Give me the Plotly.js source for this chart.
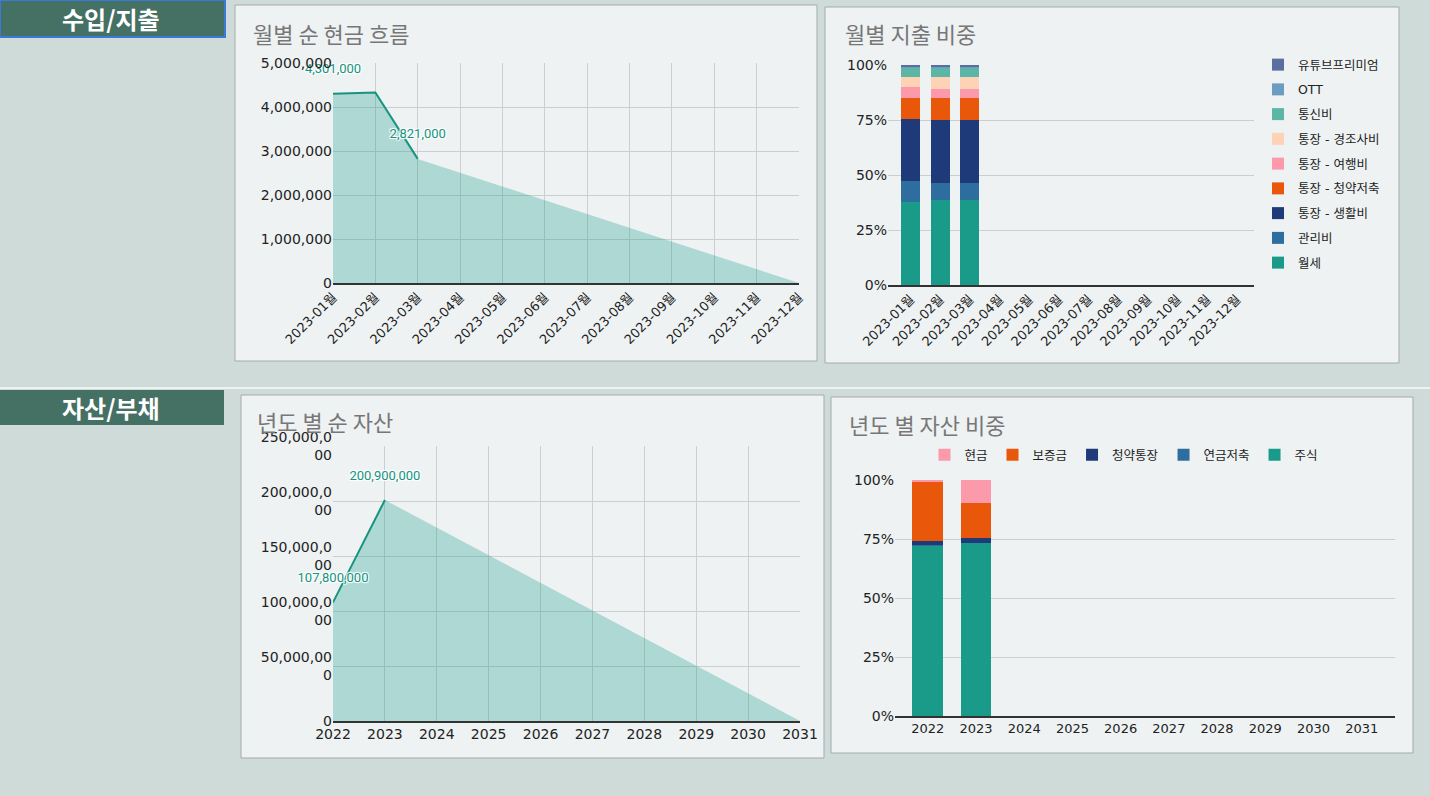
<!DOCTYPE html>
<html><head><meta charset="utf-8">
<script src="https://cdn.plot.ly/plotly-3.0.1.min.js"></script>
<style>html,body{margin:0;padding:0;background:#cfdbd8;overflow:hidden}#chart{width:1430px;height:796px}</style>
</head><body><div id="chart"></div>
<script>
// ---------- data ----------
const months = ['2023-01월','2023-02월','2023-03월','2023-04월','2023-05월','2023-06월','2023-07월','2023-08월','2023-09월','2023-10월','2023-11월','2023-12월'];
const netCashLine = [4301000, 4331000, 2821000];
const netCashArea = [4301000, 4331000, 2821000, null, null, null, null, null, null, null, null, 0];
const netCashLabels = ['4,301,000', '', '2,821,000'];

const expenseNames = ['월세','관리비','통장 - 생활비','통장 - 청약저축','통장 - 여행비','통장 - 경조사비','통신비','OTT','유튜브프리미엄'];
const exp월세 = [37.7, 38.5, 38.5];
const exp관리비 = [9.4, 7.6, 7.6];
const exp생활비 = [28.4, 29.0, 28.9];
const exp청약저축 = [9.3, 9.6, 9.7];
const exp여행비 = [5.0, 4.5, 4.5];
const exp경조사비 = [4.5, 5.1, 5.1];
const exp통신비 = [4.4, 4.4, 4.4];
const expOTT = [0.3, 0.3, 0.3];
const exp유튜브 = [0.9, 0.9, 0.9];
const expenseColors = ['#1a9b8a','#2e6e9e','#1e3a78','#e9570a','#fc9aac','#fed2b4','#5cb6a5','#6a9dc0','#5a6ea0'];

const years = ['2022','2023','2024','2025','2026','2027','2028','2029','2030','2031'];
const netAssetLine = [107800000, 200900000];
const netAssetArea = [107800000, 200900000, null, null, null, null, null, null, null, 0];
const netAssetLabels = ['107,800,000', '200,900,000'];
const assetTickVals = [0, 50000000, 100000000, 150000000, 200000000, 250000000];
const assetTickText = ['0', '50,000,00<br>0', '100,000,0<br>00', '150,000,0<br>00', '200,000,0<br>00', '250,000,0<br>00'];

const assetNames = ['주식','연금저축','청약통장','보증금','현금'];
const ast주식 = [72.2, 73.3];
const ast연금저축 = [0.2, 0.2];
const ast청약통장 = [1.8, 2.0];
const ast보증금 = [25.0, 14.6];
const ast현금 = [0.8, 9.9];
const assetColors = ['#1a9b8a','#2e6e9e','#1e3a78','#e9570a','#fc9aac'];

// ---------- helpers ----------
const W = 1430, H = 796;
const px = x => x / W;
const py = y => 1 - y / H;
const NUM = "'DejaVu Sans', 'Noto Sans CJK KR', sans-serif";
const KR = "'Noto Sans CJK KR', sans-serif";
const teal = '#17937f';
const halo = '1px 1px 1px #fff, -1px -1px 1px #fff, 1px -1px 1px #fff, -1px 1px 1px #fff';
const grid = '#cccfcf';
const xTickFont = {family: NUM, size: 13, color: '#222'};
const yTickFont = {family: NUM, size: 14, color: '#222'};

const traces = [];
// Panel 1
traces.push({x: months, y: netCashArea, type: 'scatter', mode: 'lines', connectgaps: true, fill: 'tozeroy',
  fillcolor: 'rgba(26,155,138,0.3)', line: {width: 0}, xaxis: 'x', yaxis: 'y', showlegend: false, hoverinfo: 'skip'});
traces.push({x: months.slice(0, 3), y: netCashLine, type: 'scatter', mode: 'lines', line: {color: teal, width: 2},
  xaxis: 'x', yaxis: 'y', showlegend: false});
traces.push({x: months.slice(0, 3), y: netCashLine, type: 'scatter', mode: 'markers+text', text: netCashLabels,
  textposition: 'top center', marker: {size: 26, color: 'rgba(0,0,0,0)'},
  textfont: {family: "Roboto, 'Noto Sans', sans-serif", size: 13, color: teal, shadow: halo},
  xaxis: 'x', yaxis: 'y', showlegend: false, hoverinfo: 'skip', cliponaxis: false});

// Panel 2
const expSeries = [exp월세, exp관리비, exp생활비, exp청약저축, exp여행비, exp경조사비, exp통신비, expOTT, exp유튜브];
expSeries.forEach((s, i) => {
  traces.push({x: months.slice(0, s.length), y: s, name: expenseNames[i], type: 'bar', marker: {color: expenseColors[i]},
    xaxis: 'x2', yaxis: 'y2', legend: 'legend', legendgroup: 'e' + i, legendrank: 100 - i});
});

// Panel 3
traces.push({x: years, y: netAssetArea, type: 'scatter', mode: 'lines', connectgaps: true, fill: 'tozeroy',
  fillcolor: 'rgba(26,155,138,0.3)', line: {width: 0}, xaxis: 'x3', yaxis: 'y3', showlegend: false, hoverinfo: 'skip'});
traces.push({x: years.slice(0, 2), y: netAssetLine, type: 'scatter', mode: 'lines', line: {color: teal, width: 2},
  xaxis: 'x3', yaxis: 'y3', showlegend: false});
traces.push({x: years.slice(0, 2), y: netAssetLine, type: 'scatter', mode: 'markers+text', text: netAssetLabels,
  textposition: 'top center', marker: {size: 26, color: 'rgba(0,0,0,0)'},
  textfont: {family: "Roboto, 'Noto Sans', sans-serif", size: 13, color: teal, shadow: halo},
  xaxis: 'x3', yaxis: 'y3', showlegend: false, hoverinfo: 'skip', cliponaxis: false});

// Panel 4
const astSeries = [ast주식, ast연금저축, ast청약통장, ast보증금, ast현금];
astSeries.forEach((s, i) => {
  traces.push({x: years.slice(0, s.length), y: s, name: assetNames[i], type: 'bar', marker: {color: assetColors[i]},
    xaxis: 'x4', yaxis: 'y4', legend: 'legend2'});
});

const shapes = [
  {type: 'rect', xref: 'paper', yref: 'paper', x0: px(0), x1: px(225), y0: py(37), y1: py(0), fillcolor: '#457064', line: {color: '#3a7ad6', width: 2}, layer: 'below'},
  {type: 'line', xref: 'paper', yref: 'paper', x0: 0, x1: 1, y0: py(388), y1: py(388), line: {color: '#eef3f2', width: 2}, layer: 'below'},
  {type: 'rect', xref: 'paper', yref: 'paper', x0: px(0), x1: px(224), y0: py(425), y1: py(390), fillcolor: '#457064', line: {width: 0}, layer: 'below'},
  {type: 'rect', xref: 'paper', yref: 'paper', x0: px(235), x1: px(817), y0: py(361), y1: py(5), fillcolor: '#eef2f3', line: {color: '#a3abab', width: 1}, layer: 'below'},
  {type: 'rect', xref: 'paper', yref: 'paper', x0: px(825), x1: px(1399), y0: py(363), y1: py(7), fillcolor: '#eef2f3', line: {color: '#a3abab', width: 1}, layer: 'below'},
  {type: 'rect', xref: 'paper', yref: 'paper', x0: px(241), x1: px(824), y0: py(758), y1: py(395), fillcolor: '#eef2f3', line: {color: '#a3abab', width: 1}, layer: 'below'},
  {type: 'rect', xref: 'paper', yref: 'paper', x0: px(831), x1: px(1413), y0: py(753), y1: py(397), fillcolor: '#eef2f3', line: {color: '#a3abab', width: 1}, layer: 'below'}
];

const ann = (text, x, y, opts) => Object.assign({xref: 'paper', yref: 'paper', x: px(x), y: py(y), text: text, showarrow: false,
  xanchor: 'left', yanchor: 'middle', font: {family: KR, size: 22, color: '#777'}}, opts || {});
const annotations = [
  ann('<b>수입/지출</b>', 111, 18, {xanchor: 'center', font: {family: KR, size: 24, color: '#fff'}}),
  ann('<b>자산/부채</b>', 111, 407, {xanchor: 'center', font: {family: KR, size: 24, color: '#fff'}}),
  ann('월별 순 현금 흐름', 251, 33),
  ann('월별 지출 비중', 843, 33),
  ann('년도 별 순 자산', 255, 421),
  ann('년도 별 자산 비중', 847, 424)
];

const layout = {
  width: W, height: H, margin: {l: 0, r: 0, t: 0, b: 0},
  paper_bgcolor: '#cfdbd8', plot_bgcolor: '#eef2f3',
  barmode: 'stack', barnorm: 'percent', bargap: 0.36,
  shapes: shapes, annotations: annotations,
  xaxis: {domain: [px(333), px(799)], anchor: 'y', type: 'category', categoryorder: 'array', categoryarray: months,
    range: [0, 11], showgrid: true, gridcolor: grid, showline: true, linecolor: '#333', linewidth: 1.5,
    tickangle: -45, tickfont: xTickFont, ticks: '', fixedrange: true},
  yaxis: {domain: [py(283), py(63)], anchor: 'x', range: [0, 5000000], dtick: 1000000, tickformat: ',d',
    showgrid: true, gridcolor: grid, zeroline: false, tickfont: yTickFont, ticks: '', fixedrange: true},
  xaxis2: {domain: [px(888), px(1254)], anchor: 'y2', type: 'category', categoryorder: 'array', categoryarray: months,
    range: [-0.76, 11.58], showgrid: false, showline: true, linecolor: '#333', linewidth: 1.5,
    tickangle: -45, tickfont: xTickFont, ticks: '', fixedrange: true},
  yaxis2: {domain: [py(285), py(65)], anchor: 'x2', range: [0, 100], dtick: 25, ticksuffix: '%',
    showgrid: true, gridcolor: grid, zeroline: false, tickfont: yTickFont, ticks: '', fixedrange: true},
  xaxis3: {domain: [px(333), px(800)], anchor: 'y3', type: 'category', categoryorder: 'array', categoryarray: years,
    range: [0, 9], showgrid: true, gridcolor: grid, showline: true, linecolor: '#333', linewidth: 1.5,
    tickangle: 0, tickfont: yTickFont, ticks: '', fixedrange: true},
  yaxis3: {domain: [py(721), py(446)], anchor: 'x3', range: [0, 250000000], tickmode: 'array',
    tickvals: assetTickVals, ticktext: assetTickText,
    showgrid: true, gridcolor: grid, zeroline: false, tickfont: yTickFont, ticks: '', fixedrange: true},
  xaxis4: {domain: [px(895), px(1395)], anchor: 'y4', type: 'category', categoryorder: 'array', categoryarray: years,
    range: [-0.68, 9.69], showgrid: false, showline: true, linecolor: '#333', linewidth: 1.5,
    tickangle: 0, tickfont: xTickFont, ticks: '', fixedrange: true},
  yaxis4: {domain: [py(716), py(480)], anchor: 'x4', range: [0, 100], dtick: 25, ticksuffix: '%',
    showgrid: true, gridcolor: grid, zeroline: false, tickfont: yTickFont, ticks: '', fixedrange: true},
  legend: {x: px(1258), y: py(50), xanchor: 'left', yanchor: 'top', orientation: 'v', traceorder: 'grouped',
    tracegroupgap: 5.5, font: {family: NUM, size: 12.5, color: '#222'}, bgcolor: 'rgba(0,0,0,0)'},
  legend2: {x: px(1124), y: py(455), xanchor: 'center', yanchor: 'middle', orientation: 'h', traceorder: 'reversed',
    font: {family: NUM, size: 12.5, color: '#222'}, bgcolor: 'rgba(0,0,0,0)'},
  showlegend: true, hovermode: false
};

Plotly.newPlot('chart', traces, layout, {displayModeBar: false, staticPlot: true});
</script>
</body></html>
